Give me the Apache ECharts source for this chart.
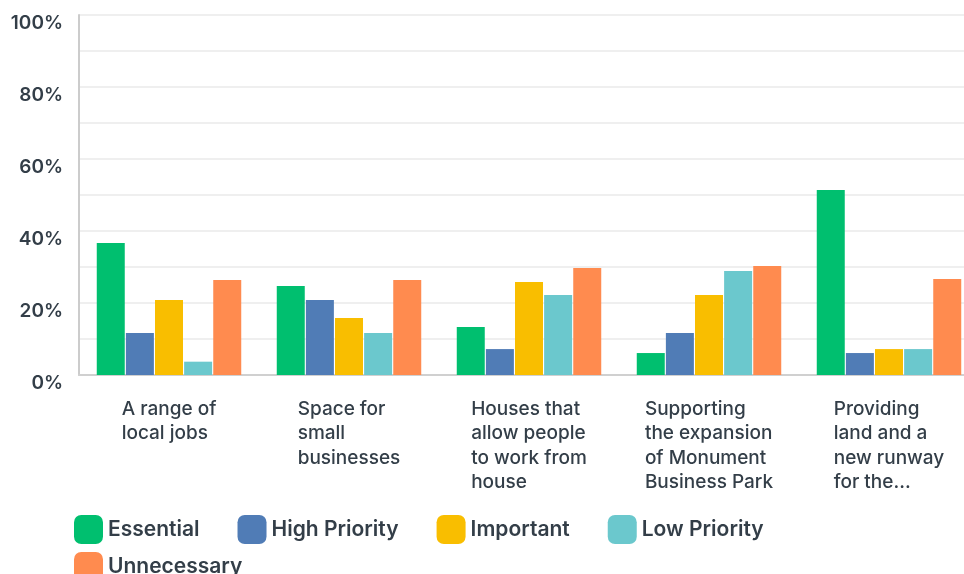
<!DOCTYPE html>
<html>
<head>
<meta charset="utf-8">
<script src="https://cdn.jsdelivr.net/npm/echarts@6/dist/echarts.min.js"></script>
<style>
  html, body { margin: 0; padding: 0; background: #fff; }
  #chart { width: 964px; height: 574px; }
</style>
</head>
<body>
<div id="chart"></div>
<script>
// Survey answers: share of respondents per priority level
const categories = [
  'A range of\nlocal jobs',
  'Space for\nsmall\nbusinesses',
  'Houses that\nallow people\nto work from\nhouse',
  'Supporting\nthe expansion\nof Monument\nBusiness Park',
  'Providing\nland and a\nnew runway\nfor the...'
];
const seriesNames = ['Essential', 'High Priority', 'Important', 'Low Priority', 'Unnecessary'];
const essential    = [36.7, 24.7, 13.3, 6.1, 51.4];
const highPriority = [11.7, 20.8, 7.2, 11.7, 6.1];
const important    = [20.8, 15.8, 25.8, 22.2, 7.2];
const lowPriority  = [3.7, 11.7, 22.2, 28.9, 7.2];
const unnecessary  = [26.4, 26.4, 29.7, 30.3, 26.7];
const yTicks = [0, 20, 40, 60, 80, 100];

const values = [essential, highPriority, important, lowPriority, unnecessary];
const colors = ['#00BF6F', '#507CB6', '#F9BE00', '#6BC8CD', '#FF8B4F'];
const textColor = '#333E48';
const fontFamily = 'Inter, "Open Sans", sans-serif';

const chart = echarts.init(document.getElementById('chart'));

const legendText = {
  color: textColor,
  fontFamily: fontFamily,
  fontSize: 21,
  fontWeight: 600,
  padding: [0, 0, 5, 0]
};

chart.setOption({
  animation: false,
  // plot area runs a little past the right edge of the canvas
  grid: {
    left: 79, width: 900, top: 15, bottom: 199,
    containLabel: false,
    outerBoundsMode: 'none'
  },
  legend: [
    {
      data: seriesNames.slice(0, 4),
      left: 74, top: 515, padding: 0,
      itemWidth: 29, itemHeight: 29, itemGap: 38,
      icon: 'roundRect',
      textStyle: legendText
    },
    {
      data: seriesNames.slice(4),
      left: 74, top: 552, padding: 0,
      itemWidth: 29, itemHeight: 29,
      icon: 'roundRect',
      textStyle: legendText
    }
  ],
  xAxis: {
    type: 'category',
    data: categories,
    axisLine: { lineStyle: { color: '#D0D0D0', width: 2 } },
    axisTick: { show: false },
    axisLabel: {
      interval: 0,
      margin: 22,
      formatter: function (v) { return '{t|' + v + '}'; },
      rich: {
        t: {
          align: 'left',
          color: textColor,
          fontFamily: fontFamily,
          fontSize: 19,
          fontWeight: 500,
          lineHeight: 24.5
        }
      }
    }
  },
  yAxis: {
    type: 'value',
    min: yTicks[0],
    max: yTicks[yTicks.length - 1],
    interval: 20,
    axisLine: { show: true, lineStyle: { color: '#CCCCCC', width: 2 } },
    axisTick: { show: false },
    axisLabel: {
      formatter: function (v) { return '{v|' + v + '%}'; },
      margin: 16,
      rich: {
        v: {
          padding: [17, 0, 0, 0],
          color: textColor,
          fontFamily: fontFamily,
          fontSize: 19,
          fontWeight: 600
        }
      }
    },
    splitLine: { lineStyle: { color: '#EFEFEF', width: 2 } },
    minorTick: { show: false, splitNumber: 2 },
    minorSplitLine: { show: true, lineStyle: { color: '#EFEFEF', width: 2 } }
  },
  series: seriesNames.map(function (name, i) {
    return {
      name: name,
      type: 'bar',
      data: values[i],
      barWidth: 28,
      barGap: '4%',
      itemStyle: { color: colors[i] }
    };
  })
});
</script>
</body>
</html>
